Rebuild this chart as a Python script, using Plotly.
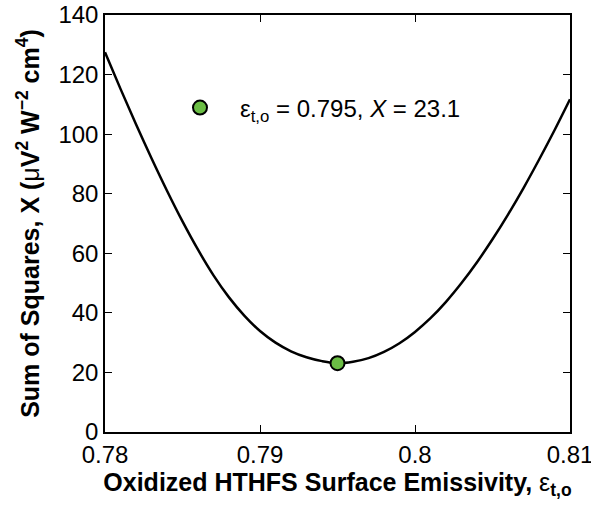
import plotly.graph_objects as go

# Curve: emissivity vs sum of squares
emissivity = [0.780, 0.781, 0.782, 0.783, 0.784, 0.785, 0.786, 0.787, 0.788, 0.789,
              0.790, 0.791, 0.792, 0.793, 0.794, 0.795, 0.796, 0.797, 0.798, 0.799,
              0.800, 0.801, 0.802, 0.803, 0.804, 0.805, 0.806, 0.807, 0.808, 0.809,
              0.810]
sum_sq = [127.5, 115.2, 103.3, 91.9, 81.0, 70.7, 61.2, 52.6, 45.2, 39.0,
          33.9, 30.0, 27.1, 25.1, 23.8, 23.1, 23.6, 24.8, 26.9, 29.8,
          33.6, 38.2, 43.7, 50.0, 57.0, 64.7, 73.0, 81.9, 91.4, 101.3,
          111.7]

best_eps = [0.795]
best_x = [23.1]

x_ticks = [0.78, 0.79, 0.80, 0.81]
x_tick_labels = ["0.78", "0.79", "0.8", "0.81"]
y_ticks = [0, 20, 40, 60, 80, 100, 120, 140]

FONT = "Liberation Sans, Arial, sans-serif"
GREEN = "#6BBE45"

fig = go.Figure()
fig.add_trace(go.Scatter(
    x=emissivity, y=sum_sq, mode="lines", line=dict(color="black", width=2.5, shape="spline"),
    showlegend=False, hoverinfo="skip"))
fig.add_trace(go.Scatter(
    x=best_eps, y=best_x, mode="markers",
    marker=dict(color=GREEN, size=14, line=dict(color="black", width=2)),
    name="\u00a0\u00a0\u00a0ε<sub>t,o</sub> = 0.795, <i>X</i> = 23.1",
    showlegend=True))

axis_common = dict(
    showline=True, linecolor="black", linewidth=1.5, mirror="ticks",
    ticks="inside", ticklen=7, tickwidth=1.2, tickcolor="black",
    showgrid=False, zeroline=False, ticklabeloverflow="allow", automargin=False,
    tickfont=dict(family=FONT, size=24, color="black"))

fig.update_xaxes(
    range=[0.78, 0.81], tickvals=x_ticks, ticktext=x_tick_labels,
    title=dict(text="<b>Oxidized HTHFS Surface Emissivity,</b> ε<sub><b>t,o</b></sub>",
               font=dict(family=FONT, size=25, color="black"), standoff=2),
    **axis_common)
fig.update_yaxes(
    range=[0, 140], tickvals=y_ticks,
    title=dict(text="<b>Sum of Squares, X (</b>μ<b>V<sup>2</sup> W<sup>−2</sup> cm<sup>4</sup>)</b>",
               font=dict(family=FONT, size=25, color="black"), standoff=12),
    **axis_common)

fig.update_layout(
    width=591, height=508,
    margin=dict(l=105, r=21, t=15, b=76),
    paper_bgcolor="white", plot_bgcolor="white",
    font=dict(family=FONT, size=24, color="black"),
    legend=dict(x=(180 - 105) / 465, y=(432 - 108) / 417, xanchor="left", yanchor="middle",
                bgcolor="rgba(0,0,0,0)", borderwidth=0,
                font=dict(family=FONT, size=24, color="black")),
)

fig.write_html("out.html")
